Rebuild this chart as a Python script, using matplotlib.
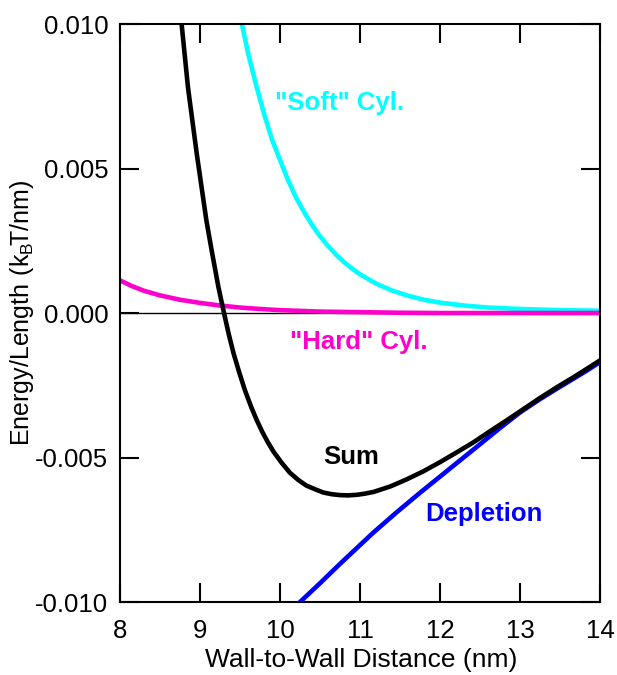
import matplotlib
matplotlib.use("Agg")
import matplotlib.pyplot as plt
from matplotlib.ticker import FormatStrFormatter

plt.rcParams['font.family'] = ['Liberation Sans', 'DejaVu Sans']
plt.rcParams['axes.unicode_minus'] = False

# Energy per unit length (kBT/nm) against wall-to-wall distance (nm)
soft_x = [9.50, 9.60, 9.70, 9.80, 9.90, 10.00, 10.10, 10.20, 10.30, 10.40,
          10.50, 10.60, 10.70, 10.80, 10.90, 11.00, 11.20, 11.40, 11.60,
          11.80, 12.00, 12.30, 12.60, 13.00, 13.50, 14.00]
soft_y = [0.0103, 0.0090, 0.0079, 0.0069, 0.0060, 0.0053, 0.0046, 0.0040,
          0.0035, 0.00305, 0.00266, 0.00232, 0.00202, 0.00176, 0.00154,
          0.00134, 0.00102, 0.00078, 0.00060, 0.00046, 0.00036, 0.00026,
          0.00019, 0.00014, 0.00010, 0.00008]

hard_x = [8.00, 8.15, 8.30, 8.50, 8.75, 9.00, 9.25, 9.50, 9.75, 10.00,
          10.50, 11.00, 11.50, 12.00, 14.00]
hard_y = [0.00113, 0.00093, 0.00077, 0.00061, 0.00046, 0.00035, 0.00026,
          0.00019, 0.00014, 0.00010, 0.00005, 0.00003, 0.00001, 0.0, 0.0]

sum_x = [8.74, 8.77, 8.85, 8.96, 9.08, 9.15, 9.23, 9.30, 9.36, 9.42, 9.49,
         9.56, 9.64, 9.71, 9.78, 9.85, 9.92, 10.02, 10.125, 10.23, 10.33,
         10.44, 10.54, 10.65, 10.75, 10.85, 10.96, 11.06, 11.17, 11.38,
         11.58, 11.79, 12.00, 12.21, 12.42, 12.62, 12.83, 13.04, 13.25,
         13.46, 13.67, 13.83, 14.00]
sum_y = [0.0108, 0.0100, 0.0078, 0.0055, 0.0032, 0.0021, 0.0009, 0.0000,
         -0.00074, -0.00140, -0.00205, -0.00266, -0.00325, -0.00371,
         -0.00412, -0.00448, -0.00480, -0.00518, -0.00553, -0.00578,
         -0.00597, -0.00610, -0.00621, -0.00627, -0.00630, -0.00631,
         -0.00629, -0.00625, -0.00619, -0.00600, -0.00576, -0.00548,
         -0.00516, -0.00482, -0.00447, -0.00410, -0.00372, -0.00333,
         -0.00294, -0.00257, -0.00222, -0.00194, -0.00164]

depl_x = [10.22, 10.25, 10.50, 10.75, 11.00, 11.17, 11.46, 11.75, 12.00,
          12.21, 12.42, 12.75, 13.00, 13.25, 13.46, 13.67, 13.83, 14.00]
depl_y = [-0.0101, -0.0100, -0.00935, -0.00868, -0.00803, -0.00759,
          -0.00689, -0.00622, -0.00566, -0.00519, -0.00472, -0.00398,
          -0.00344, -0.00298, -0.00262, -0.00227, -0.00200, -0.00170]

x_ticks = [8, 9, 10, 11, 12, 13, 14]
y_ticks = [-0.010, -0.005, 0.000, 0.005, 0.010]

cyan = '#00ffff'
magenta = '#ff00cc'
blue = '#0000ff'

fig = plt.figure(figsize=(6.17, 6.75), dpi=100)
ax = fig.add_axes([0.1945, 0.1081, 0.7779, 0.8563])

ax.axhline(0, color='black', lw=1.0, zorder=1)
ax.plot(soft_x, soft_y, color=cyan, lw=3.3, zorder=2)
ax.plot(hard_x, hard_y, color=magenta, lw=3.3, zorder=2)
ax.plot(depl_x, depl_y, color=blue, lw=3.3, zorder=3)
ax.plot(sum_x, sum_y, color='black', lw=3.3, zorder=4)

ax.set_xlim(8, 14)
ax.set_ylim(-0.010, 0.010)
ax.set_xticks(x_ticks)
ax.set_yticks(y_ticks)
ax.yaxis.set_major_formatter(FormatStrFormatter('%.3f'))
ax.tick_params(direction='in', length=13.5, width=1.5, labelsize=18.5,
               top=True, right=True)
ax.tick_params(axis='y', pad=8.5)
ax.tick_params(axis='x', pad=12)
for sp in ax.spines.values():
    sp.set_linewidth(1.5)

ax.set_xlabel('Wall-to-Wall Distance (nm)', fontsize=19)
ax.set_ylabel(r'$\mathregular{Energy/Length\ (k_B\!T/nm)}$', fontsize=18)
ax.xaxis.set_label_coords(0.503, -0.079)
ax.yaxis.set_label_coords(-0.175, 0.5)

lbl = dict(fontsize=18.5, fontweight='bold', ha='left', va='baseline')
ax.text(9.94, 0.00702, '"Soft" Cyl.', color=cyan, **lbl)
ax.text(10.125, -0.00123, '"Hard" Cyl.', color=magenta, **lbl)
ax.text(10.54, -0.00524, 'Sum', color='black', **lbl)
ax.text(11.81, -0.00718, 'Depletion', color=blue, **lbl)

fig.savefig('out.png', dpi=100)
